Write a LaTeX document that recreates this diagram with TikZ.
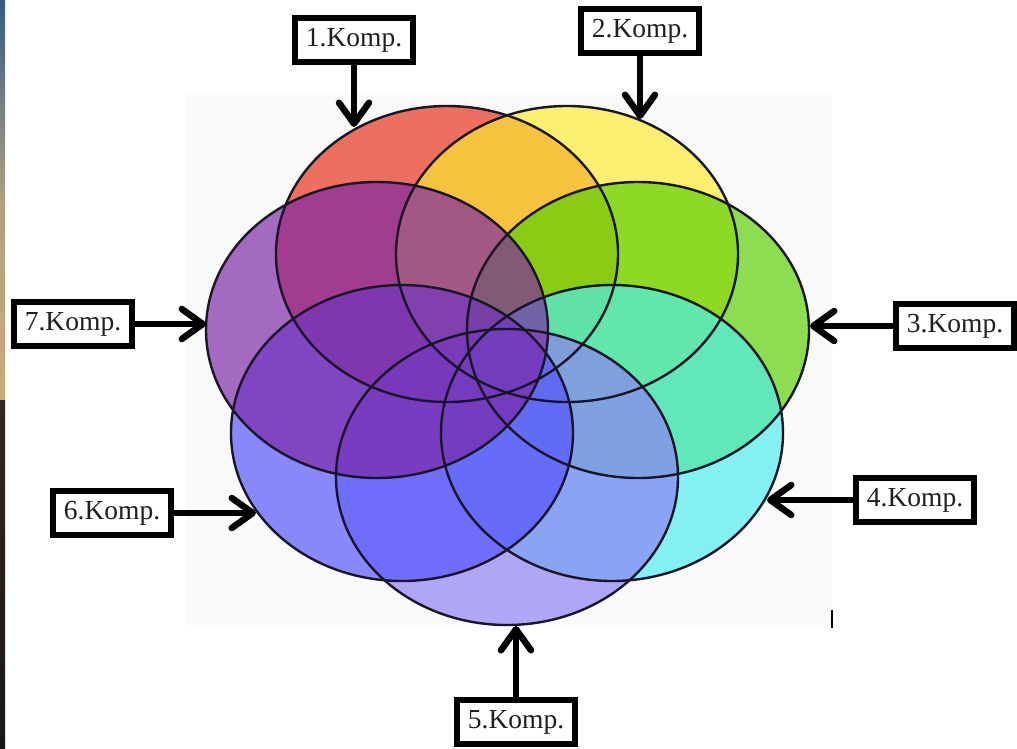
\documentclass[tikz,border=0pt]{standalone}
\usepackage{fontspec}
\setmainfont{Liberation Serif}
\usetikzlibrary{arrows.meta}
\definecolor{c1}{RGB}{230,46,24}
\definecolor{c2}{RGB}{252,235,47}
\definecolor{c3}{RGB}{91,208,0}
\definecolor{c4}{RGB}{76,238,238}
\definecolor{c5}{RGB}{142,127,245}
\definecolor{c6}{RGB}{83,83,252}
\definecolor{c7}{RGB}{125,38,165}
\definecolor{rimcol}{RGB}{25,22,40}
\definecolor{panel}{RGB}{249,249,249}
\definecolor{stripA}{RGB}{55,90,130}
\definecolor{stripB}{RGB}{175,160,130}
\definecolor{stripC}{RGB}{200,170,120}
\definecolor{stripD}{RGB}{50,40,32}
\definecolor{stripE}{RGB}{110,100,90}
\definecolor{stripF}{RGB}{25,22,20}
\begin{document}
\begin{tikzpicture}[x=1pt,y=-1pt,
  lbl/.style={draw=black, line width=6.5pt, fill=white, minimum width=118pt,
    minimum height=44pt, inner sep=0pt, font=\fontsize{27.5}{30}\selectfont, text=black!88},
  ptr/.style={line width=6.5pt, -{Straight Barb[length=21pt,width=30pt,round]}},
  petal/.style={fill opacity=0.68},
  rim/.style={draw=rimcol, line width=2.4pt}]
\useasboundingbox (0,0) rectangle (1017,749);
\fill[white] (0,0) rectangle (1017,749);
% left photo strip
\shade[top color=stripA, bottom color=stripB] (0,0) rectangle (5,200);
\shade[top color=stripB, bottom color=stripC] (0,200) rectangle (5,400);
\shade[top color=stripD, middle color=stripE, bottom color=stripF] (0,400) rectangle (5,749);
% light panel
\fill[panel] (186,93) rectangle (832,625);
\draw[line width=2pt, black] (832,610) -- (832,628);
% petals
\foreach \cx/\cy/\col in {447/254/c1, 567/254/c2, 638/330/c3, 612/433/c4,
    507/477/c5, 402/433/c6, 377/330/c7}{
  \fill[\col, petal] (\cx,\cy) ellipse [x radius=171pt, y radius=148pt];
}
\foreach \cx/\cy in {447/254, 567/254, 638/330, 612/433, 507/477, 402/433, 377/330}{
  \draw[rim] (\cx,\cy) ellipse [x radius=171pt, y radius=148pt];
}
% arrow tips
\coordinate (t1) at (354,127);
\coordinate (t2) at (640,119);
\coordinate (t3) at (810,326);
\coordinate (t4) at (767,500);
\coordinate (t5) at (516,626);
\coordinate (t6) at (256,513);
\coordinate (t7) at (206,324);
% labels
\node[lbl] (b1) at (354,40) {1.Komp.};
\node[lbl] (b2) at (640,31) {2.Komp.};
\node[lbl] (b3) at (955,326) {3.Komp.};
\node[lbl] (b4) at (915,500) {4.Komp.};
\node[lbl] (b5) at (516,722) {5.Komp.};
\node[lbl] (b6) at (112,513) {6.Komp.};
\node[lbl] (b7) at (73,324) {7.Komp.};
% arrows
\draw[ptr] (b1) -- (t1);
\draw[ptr] (b2) -- (t2);
\draw[ptr] (b3) -- (t3);
\draw[ptr] (b4) -- (t4);
\draw[ptr] (b5) -- (t5);
\draw[ptr] (b6) -- (t6);
\draw[ptr] (b7) -- (t7);
\end{tikzpicture}
\end{document}
